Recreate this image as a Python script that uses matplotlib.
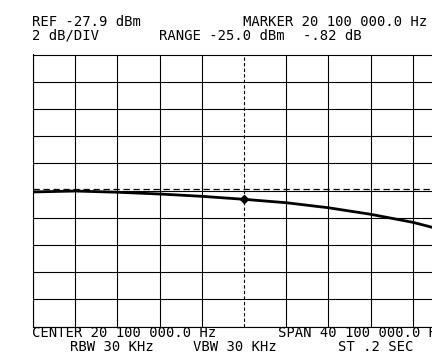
import matplotlib.pyplot as plt
import numpy as np

# spectrum analyzer trace (MHz, dBm)
freq_mhz = [0.05, 4.06, 8.07, 12.08, 16.09, 20.10, 24.11, 28.12, 32.13, 36.14, 38.0]
level_dbm = [-38.00, -37.93, -38.02, -38.15, -38.32, -38.54, -38.79, -39.16, -39.64, -40.23, -40.60]

ref_level = -27.9
db_per_div = 2
center_mhz = 20.1
span_mhz = 40.1
display_line = -37.8
marker_f = 20.1
marker_lvl = -38.54

header = [("REF -27.9 dBm", 32, 22.5), ("MARKER 20 100 000.0 Hz", 243, 22.5),
          ("2 dB/DIV", 32, 35.5), ("RANGE -25.0 dBm", 159, 35.5), ("-.82 dB", 303, 35.5)]
footer = [("CENTER 20 100 000.0 Hz", 32, 333), ("SPAN 40 100 000.0 Hz", 278, 333),
          ("RBW 30 KHz", 70, 347), ("VBW 30 KHz", 193, 347), ("ST .2 SEC", 338, 347)]

W, H = 432, 352
fig = plt.figure(figsize=(W / 100, H / 100), dpi=100)
ax = fig.add_axes([33 / W, (H - 326.7) / H, 422 / W, 272.2 / H])

x0 = center_mhz - span_mhz / 2
x1 = center_mhz + span_mhz / 2
y0 = ref_level - 10 * db_per_div
ax.set_xlim(x0, x1)
ax.set_ylim(y0, ref_level)

# graticule
for i, xv in enumerate(np.linspace(x0, x1, 11)):
    if i == 5:
        ax.axvline(xv, color='black', lw=0.8, ls=(0, (3, 2)))
    else:
        ax.axvline(xv, color='black', lw=0.8)
for yv in np.linspace(y0, ref_level, 11):
    ax.axhline(yv, color='black', lw=0.8)
ax.axhline(display_line, color='black', lw=0.9, ls=(0, (5, 3)))

ax.plot(freq_mhz, level_dbm, color='black', lw=2.0)
ax.plot([marker_f], [marker_lvl], marker='D', ms=4, color='black')

ax.set_xticks([])
ax.set_yticks([])
for s in ax.spines.values():
    s.set_linewidth(0.8)

for txt, px, py in header + footer:
    fig.text(px / W, 1 - py / H, txt, family='DejaVu Sans Mono', fontsize=10,
             va='center', ha='left')

fig.savefig('out.png', dpi=100)
